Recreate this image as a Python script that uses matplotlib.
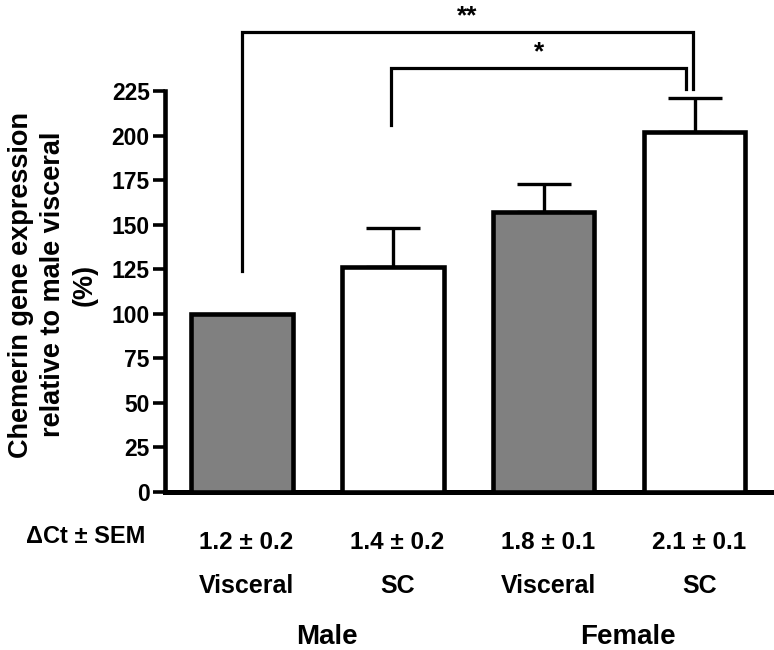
import matplotlib
matplotlib.use("Agg")
from matplotlib import pyplot as plt
import matplotlib.transforms as mtransforms

plt.rcParams['font.family'] = ['Liberation Sans', 'DejaVu Sans']
plt.rcParams['font.weight'] = 'bold'

# data
depots = ["Visceral", "SC", "Visceral", "SC"]
sexes = ["Male", "Female"]
delta_ct = ["1.2 \u00b1 0.2", "1.4 \u00b1 0.2", "1.8 \u00b1 0.1", "2.1 \u00b1 0.1"]
expression = [100, 126, 157, 202]
sem = [0, 22, 16, 19]
fill_colors = ["#808080", "white", "#808080", "white"]

x = list(range(len(expression)))

fig = plt.figure(figsize=(7.74, 6.5), dpi=100)
ax = fig.add_axes([0.2132, 0.243, 0.784, 0.617])

ax.bar(x, expression, width=0.67, color=fill_colors, edgecolor="black",
       linewidth=3.3, zorder=3)

# one-sided error bars (none for the reference group)
ax.errorbar(x[1:], expression[1:], yerr=[[0] * 3, sem[1:]], fmt="none",
            ecolor="black", elinewidth=2.4, capsize=19.5, capthick=2.4, zorder=2)

# significance brackets
def bracket(x1, x2, y_left, y_right, top, label):
    ax.plot([x1, x1, x2, x2], [y_left, top, top, y_right], color="black",
            lw=2.3, clip_on=False, solid_joinstyle="miter", zorder=4)
    ax.text((x1 + x2) / 2, top + 2, label, ha="center", va="bottom",
            fontsize=19, fontweight="bold")

bracket(0, 2.99, 124, 226, 258, "**")
bracket(0.99, 2.94, 206, 226, 238, "*")

ax.set_xlim(-0.51, 3.51)
ax.set_ylim(0, 225)
ax.set_yticks(range(0, 226, 25))
ax.set_xticks([])
ax.tick_params(axis="y", length=9, width=2.6, labelsize=16.5, pad=2)
for lbl in ax.get_yticklabels():
    lbl.set_fontweight("bold")

for side in ["top", "right"]:
    ax.spines[side].set_visible(False)
ax.spines["left"].set_linewidth(3.3)
ax.spines["bottom"].set_linewidth(3.6)

# labels under the axis
trans = mtransforms.blended_transform_factory(ax.transData, fig.transFigure)
for xi, ct, dep in zip(x, delta_ct, depots):
    ax.text(xi + 0.03, 0.166, ct, transform=trans, ha="center", va="center",
            fontsize=17.5, fontweight="bold")
    ax.text(xi + 0.03, 0.098, dep, transform=trans, ha="center", va="center",
            fontsize=18, fontweight="bold")
for gx, sx in zip([0.5, 2.5], sexes):
    ax.text(gx + 0.06, 0.02, sx, transform=trans, ha="center", va="center",
            fontsize=20, fontweight="bold")

fig.text(0.111, 0.174, "\u0394Ct \u00b1 SEM", ha="center", va="center",
         fontsize=17, fontweight="bold")

fig.text(0.068, 0.562, "Chemerin gene expression\nrelative to male visceral\n(%)",
         rotation=90, ha="center", va="center", multialignment="center",
         fontsize=19.5, fontweight="bold", linespacing=1.3)

fig.savefig("out.png", dpi=100)
